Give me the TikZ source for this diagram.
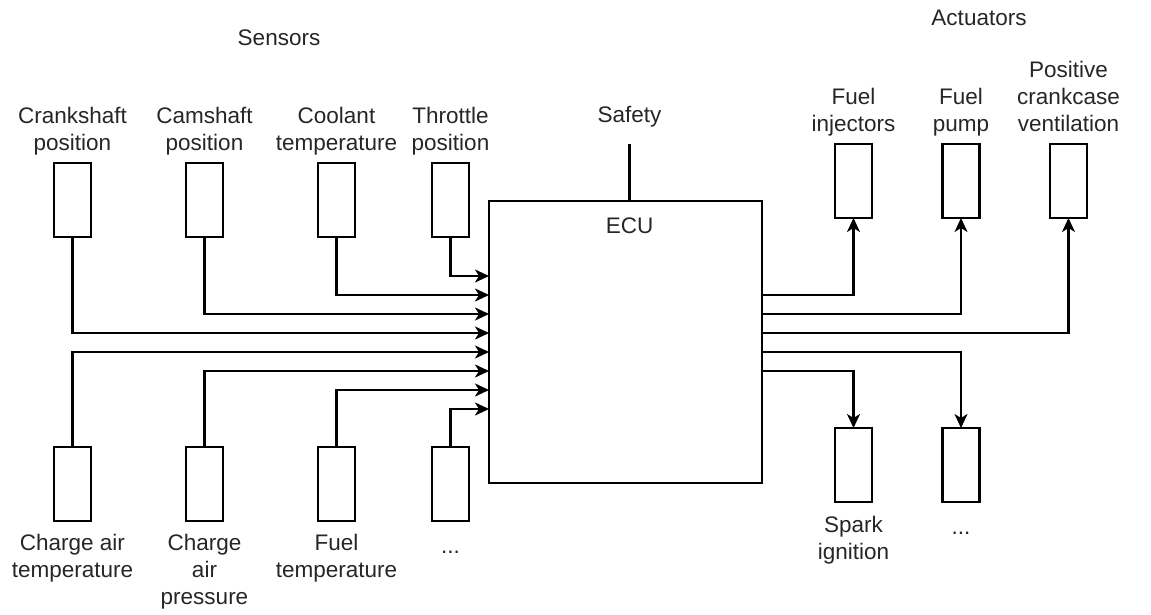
\documentclass[tikz,border=0pt]{standalone}
\usepackage{fontspec}
\setmainfont{Liberation Sans}
\usetikzlibrary{arrows.meta, positioning, calc}

\begin{document}
\begin{tikzpicture}[
    x=1pt, y=-1pt,
    unit/.style={rectangle, draw=black, line width=2.2pt, fill=white,
        minimum width=37pt, minimum height=74pt,
        inner sep=0pt, outer sep=0pt},
    ecubox/.style={rectangle, draw=black, line width=2.2pt,
        minimum width=273pt, minimum height=282pt,
        inner sep=0pt, outer sep=0pt},
    lbl/.style={font=\fontsize{22.5}{27}\selectfont, align=center,
        inner sep=0pt, text=black!85,
        execute at begin node=\strut, execute at end node=\strut},
    wire/.style={line width=2.2pt},
    arrow/.style={wire, -{Stealth[length=14pt, width=13pt, inset=4pt]}}
]
\useasboundingbox (0,0) rectangle (1151,615);
% sensors, top row
\node[unit] (crank) at (72.5,200) {};
\node[unit, right=95pt of crank] (cam)  {};
\node[unit, right=95pt of cam]   (cool) {};
\node[unit, right=77pt of cool]  (thr)  {};
% sensors, bottom row
\node[unit, below=210pt of crank] (cat)   {};
\node[unit, below=210pt of cam]   (cap)   {};
\node[unit, below=210pt of cool]  (ftemp) {};
\node[unit, below=210pt of thr]   (smore) {};
% control unit
\node[ecubox, label={[lbl, anchor=north, xshift=4pt, yshift=-13pt]north:ECU}]
    (ecu) at (625.5,342) {};
% actuators
\node[unit] (inj) at (853.5,181) {};
\node[unit, right=70.5pt of inj]  (pump)  {};
\node[unit, right=70.5pt of pump] (pcv)   {};
\node[unit, below=210pt of inj]   (spark) {};
\node[unit, below=210pt of pump]  (amore) {};
% labels
\node[lbl, anchor=base] (sens) at (279,46) {Sensors};
\node[lbl, anchor=base] (act)  at (979,26) {Actuators};
\node[lbl, above=4pt of crank] {Crankshaft\\position};
\node[lbl, above=4pt of cam]   {Camshaft\\position};
\node[lbl, above=4pt of cool]  {Coolant\\temperature};
\node[lbl, above=4pt of thr]   {Throttle\\position};
\node[lbl, below=13pt of cat]   {Charge air\\temperature};
\node[lbl, below=13pt of cap]   {Charge\\air\\pressure};
\node[lbl, below=13pt of ftemp] {Fuel\\temperature};
\node[lbl, below=13pt of smore] {...};
\node[lbl, above=4pt of inj]  {Fuel\\injectors};
\node[lbl, above=4pt of pump] {Fuel\\pump};
\node[lbl, above=4pt of pcv]  {Positive\\crankcase\\ventilation};
\node[lbl, below=13.5pt of spark] {Spark\\ignition};
\node[lbl, below=13.5pt of amore] {...};
% safety input
\coordinate (sf) at ($(ecu.north)+(4,-57)$);
\node[lbl, above=13pt of sf] (safety) {Safety};
\draw[wire] (sf) -- (sf |- ecu.north);
% ports on the ECU
\foreach \i in {1,...,8}
    \coordinate (in\i) at ($(ecu.north west)+(0,56+19*\i)$);
\foreach \i in {1,...,5}
    \coordinate (out\i) at ($(ecu.north east)+(0,75+19*\i)$);
% arrows
\draw[arrow] (thr.south)   |- (in1);
\draw[arrow] (cool.south)  |- (in2);
\draw[arrow] (cam.south)   |- (in3);
\draw[arrow] (crank.south) |- (in4);
\draw[arrow] (cat.north)   |- (in5);
\draw[arrow] (cap.north)   |- (in6);
\draw[arrow] (ftemp.north) |- (in7);
\draw[arrow] (smore.north) |- (in8);
\draw[arrow] (out1) -| (inj.south);
\draw[arrow] (out2) -| (pump.south);
\draw[arrow] (out3) -| (pcv.south);
\draw[arrow] (out4) -| (amore.north);
\draw[arrow] (out5) -| (spark.north);
\end{tikzpicture}
\end{document}
